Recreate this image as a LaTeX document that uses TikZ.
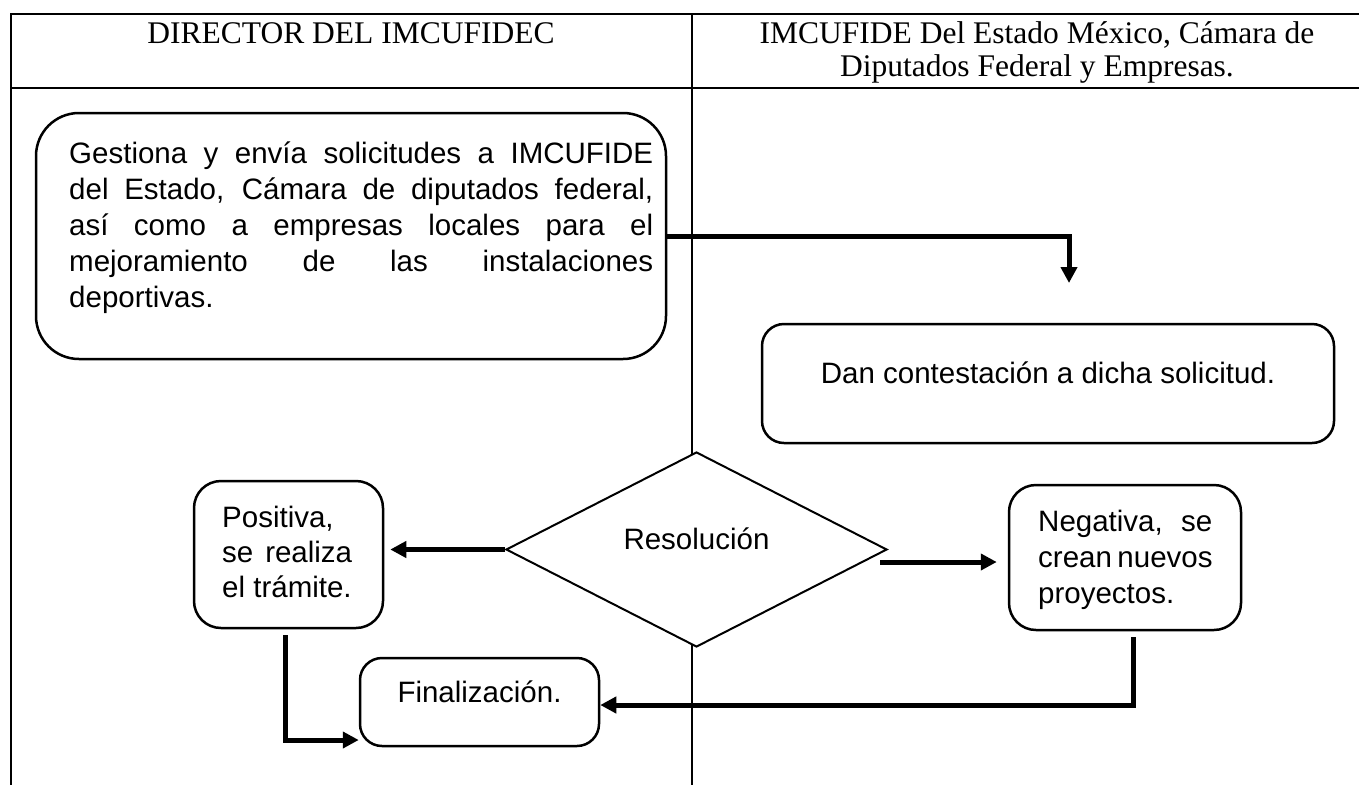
\documentclass[tikz,border=0pt]{standalone}
\usepackage{fontspec}
\setmainfont{Liberation Serif}
\newfontfamily\arial{Liberation Sans}
\usetikzlibrary{shapes.geometric,arrows.meta,calc}
\begin{document}
\begin{tikzpicture}[x=1pt,y=-1pt,
  tline/.style={line width=2pt},
  rbox/.style={draw, fill=white, line width=2.5pt, inner sep=0pt},
  arr/.style={line width=5pt, line join=miter, -{Triangle[length=16pt,width=16pt]}},
  body/.style={font=\arial\fontsize{29.5pt}{36pt}\selectfont, inner sep=0pt},
  head/.style={font=\fontsize{31.5pt}{33pt}\selectfont, inner sep=0pt}]
\useasboundingbox (0,0) rectangle (1359,785);
% table
\draw[tline] (1359,14) -- (11,14) -- (11,785);
\draw[tline] (11,88) -- (1359,88);
\draw[tline] (692,14) -- (692,785);
% headers
\node[head, anchor=base] (h1) at (351,43) {DIRECTOR DEL IMCUFIDEC};
\node[head, anchor=base] (h2) at (1037,43) {IMCUFIDE Del Estado México, Cámara de};
\node[head, anchor=base] (h3) at (1037,76) {Diputados Federal y Empresas.};
% box 1
\node[rbox, rounded corners=43pt, minimum width=630pt, minimum height=246pt] (b1) at (351,236) {};
\node[body, anchor=base west] (t1) at (69,163) {\parbox[t]{584pt}{%
\makebox[584pt][s]{Gestiona y envía solicitudes a IMCUFIDE}\\
\makebox[584pt][s]{del Estado, Cámara de diputados federal,}\\
\makebox[584pt][s]{así como a empresas locales para el}\\
\makebox[584pt][s]{mejoramiento de las instalaciones}\\
deportivas.}};
% box 2
\node[rbox, rounded corners=22pt, minimum width=572pt, minimum height=119pt, body, text height=12pt, text depth=12pt] (dan) at (1048,383.5) {Dan contestación a dicha solicitud.};
% decision
\node[draw, fill=white, line width=2pt, diamond, minimum width=381pt, minimum height=195pt, inner sep=0pt, body, text height=10pt, text depth=10pt] (dec) at (696.5,549.5) {Resolución};
% positiva
\node[rbox, rounded corners=27pt, minimum width=189pt, minimum height=147pt] (pos) at (288.5,554.5) {};
\node[body, anchor=base west] (tpos) at (222,527) {\parbox[t]{130pt}{\fontsize{29.5pt}{35pt}\selectfont
Positiva,\\
\makebox[130pt][s]{se realiza}\\
el trámite.}};
% negativa
\node[rbox, rounded corners=27pt, minimum width=232pt, minimum height=145pt] (neg) at (1125,557.5) {};
\node[body, anchor=base west] (tneg) at (1038,531) {\parbox[t]{174pt}{%
\makebox[174pt][s]{Negativa, se}\\
\makebox[174pt][s]{crean nuevos}\\
proyectos.}};
% finalizacion
\node[rbox, rounded corners=22pt, minimum width=239pt, minimum height=88pt, body, text height=12pt, text depth=12pt] (fin) at (479.5,702) {Finalización.};
% connectors
\coordinate (a1) at (1069,283);
\draw[arr] (b1.east) -| (a1);
\draw[arr, shorten >=6pt] (dec.west) -- (dec.west -| pos.east);
\coordinate (r1) at (880,562);
\draw[arr, shorten >=11pt] (r1) -- (r1 -| neg.west);
\coordinate (n1) at (1133,637);
\coordinate (n2) at (1133,705);
\draw[arr] (n1) -- (n2) -- (n2 -| fin.east);
\coordinate (p1) at (285,635);
\coordinate (p2) at (285,740);
\draw[arr] (p1) -- (p2) -- (p2 -| fin.west);
\end{tikzpicture}
\end{document}
